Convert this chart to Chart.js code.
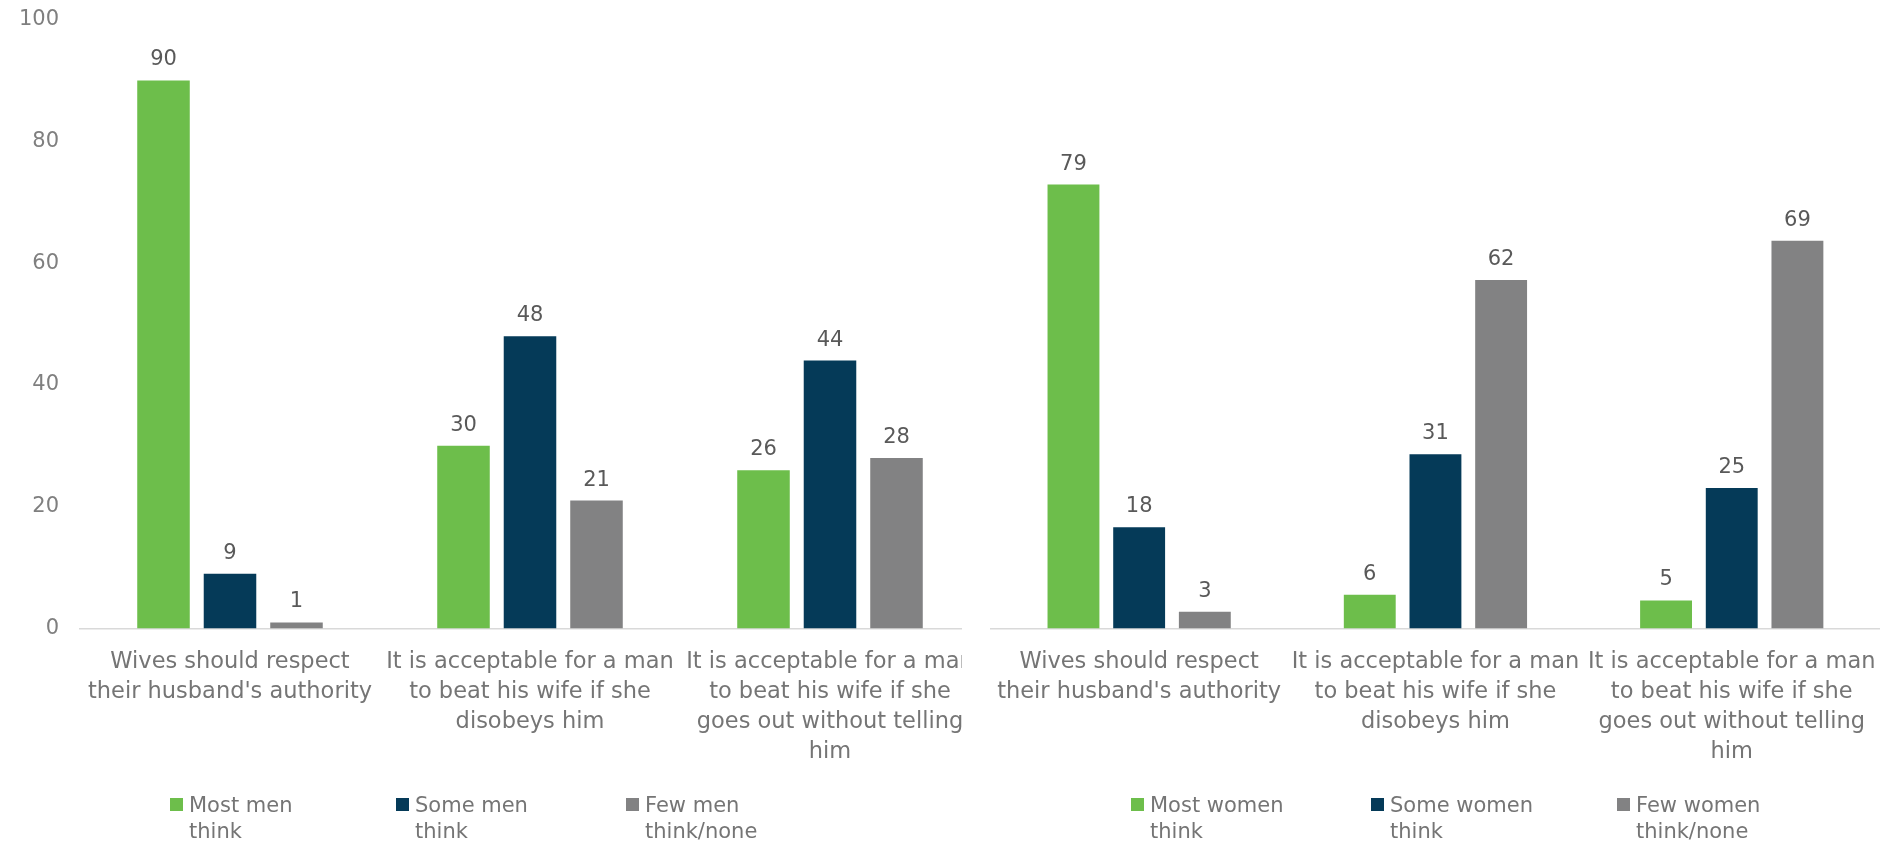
<!DOCTYPE html>
<html>
<head>
<meta charset="utf-8">
<script src="https://cdn.jsdelivr.net/npm/chart.js@4.4.1/dist/chart.umd.min.js"></script>
<style>
  body { margin: 0; background: #fff; }
  #wrap { position: relative; width: 1895px; height: 844px; overflow: hidden; font-family: "DejaVu Sans", sans-serif; }
  #menChart { position: absolute; left: 0; top: 0; }
  #womenChart { position: absolute; left: 962px; top: 0; background: #fff; }
  .legend-item { position: absolute; top: 792px; font-size: 21px; line-height: 26px; color: #757575; padding-left: 19px; white-space: nowrap; }
  .legend-item .box { position: absolute; left: 0; top: 6px; width: 13px; height: 13px; }
</style>
</head>
<body>
<div id="wrap">
  <canvas id="menChart" width="1000" height="844"></canvas>
  <canvas id="womenChart" width="933" height="844"></canvas>
</div>
<script>
// categories (x axis, already wrapped like the original)
const categories = [
  ["Wives should respect", "their husband's authority"],
  ["It is acceptable for a man", "to beat his wife if she", "disobeys him"],
  ["It is acceptable for a man", "to beat his wife if she", "goes out without telling", "him"]
];

// men
const menMost = [90, 30, 26];
const menSome = [9, 48, 44];
const menFew = [1, 21, 28];
const menNames = [["Most men", "think"], ["Some men", "think"], ["Few men", "think/none"]];

// women
const womenMost = [79, 6, 5];
const womenSome = [18, 31, 25];
const womenFew = [3, 62, 69];
const womenNames = [["Most women", "think"], ["Some women", "think"], ["Few women", "think/none"]];

// left axis ticks
const yTicks = [0, 20, 40, 60, 80, 100];

const colors = ['#6DBE4B', '#053A58', '#828283'];
const FONT = '"DejaVu Sans", sans-serif';

Chart.defaults.font.family = FONT;
Chart.defaults.animation = false;

// numbers above the bars
const valueLabels = {
  id: 'valueLabels',
  afterDatasetsDraw(chart) {
    const ctx = chart.ctx;
    ctx.save();
    ctx.font = '21px ' + FONT;
    ctx.fillStyle = '#595959';
    ctx.textAlign = 'center';
    ctx.textBaseline = 'alphabetic';
    chart.data.datasets.forEach((ds, i) => {
      chart.getDatasetMeta(i).data.forEach((bar, j) => {
        ctx.fillText(ds.data[j], bar.x, bar.y - 15);
      });
    });
    ctx.restore();
  }
};

function makeDatasets(names, series) {
  return series.map((data, i) => ({
    label: names[i].join(' '),
    data: data,
    backgroundColor: colors[i],
    borderWidth: 0,
    categoryPercentage: 0.665,
    barPercentage: 0.79
  }));
}

function xScale() {
  return {
    grid: { display: false, drawTicks: false },
    border: { display: true, color: '#D9D9D9', width: 1.5 },
    ticks: {
      color: '#757575',
      font: { size: 22.5, lineHeight: '30px' },
      padding: 19,
      maxRotation: 0,
      minRotation: 0,
      autoSkip: false
    },
    afterFit(scale) { scale.height = 844 - 628.5; }
  };
}

new Chart(document.getElementById('menChart'), {
  type: 'bar',
  data: {
    labels: categories,
    datasets: makeDatasets(menNames, [menMost, menSome, menFew])
  },
  options: {
    responsive: false,
    layout: { padding: { top: 19.5, right: 20, left: 0, bottom: 0 } },
    plugins: { legend: { display: false }, tooltip: { enabled: false } },
    scales: {
      x: xScale(),
      y: {
        min: yTicks[0],
        max: yTicks[yTicks.length - 1],
        grid: { display: false, drawTicks: false },
        border: { display: false },
        afterBuildTicks(scale) { scale.ticks = yTicks.map(v => ({ value: v })); },
        ticks: { color: '#7F7F7F', font: { size: 21 }, padding: 21 },
        afterFit(scale) {
          scale.width = 80;
          scale.paddingTop = 0;
          scale.paddingBottom = 0;
        }
      }
    }
  },
  plugins: [valueLabels]
});

new Chart(document.getElementById('womenChart'), {
  type: 'bar',
  data: {
    labels: categories,
    datasets: makeDatasets(womenNames, [womenMost, womenSome, womenFew])
  },
  options: {
    responsive: false,
    layout: { padding: { top: 66.5, right: 3, left: 29, bottom: 0 } },
    plugins: { legend: { display: false }, tooltip: { enabled: false } },
    scales: {
      x: xScale(),
      y: { display: false, min: 0, max: 100 }
    }
  },
  plugins: [valueLabels]
});

// legends (text wraps like the original, so drawn as html)
function addLegend(names, xs) {
  const wrap = document.getElementById('wrap');
  names.forEach((lines, i) => {
    const item = document.createElement('div');
    item.className = 'legend-item';
    item.style.left = xs[i] + 'px';
    const box = document.createElement('span');
    box.className = 'box';
    box.style.background = colors[i];
    item.appendChild(box);
    lines.forEach((t, k) => {
      if (k) item.appendChild(document.createElement('br'));
      item.appendChild(document.createTextNode(t));
    });
    wrap.appendChild(item);
  });
}
addLegend(menNames, [170, 396, 626]);
addLegend(womenNames, [1131, 1371, 1617]);
</script>
</body>
</html>
